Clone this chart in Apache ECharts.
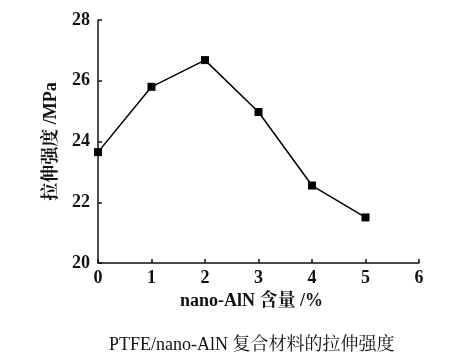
<!DOCTYPE html>
<html><head><meta charset="utf-8">
<script src="https://cdn.jsdelivr.net/npm/echarts@6/dist/echarts.min.js"></script>
<style>html,body{margin:0;padding:0;background:#fff}#c{width:455px;height:362px}</style>
</head><body><div id="c"></div>
<script>
const xValues = [0, 1, 2, 3, 4, 5];
const strength = [23.65, 25.8, 26.68, 24.97, 22.55, 21.5];
const yTicks = [20, 22, 24, 26, 28];
const xTicks = [0, 1, 2, 3, 4, 5, 6];
const xName = 'nano-AlN 含量 /%';
const yName = '拉伸强度 /MPa';
const title = 'PTFE/nano-AlN 复合材料的拉伸强度';

const serif = '"Liberation Serif","Noto Serif CJK SC","Noto Sans CJK SC",serif';
const chart = echarts.init(document.getElementById('c'));
chart.setOption({
  animation: false,
  backgroundColor: '#fff',
  title: {
    text: title, left: 104, top: 331,
    textStyle: {fontFamily: serif, fontSize: 18, fontWeight: 'normal', color: '#111'}
  },
  grid: {left: 98, top: 20, right: 36, bottom: 99},
  xAxis: {
    type: 'value', min: xTicks[0], max: xTicks[xTicks.length - 1], interval: 1,
    name: xName, nameLocation: 'middle', nameGap: 25,
    nameTextStyle: {fontFamily: serif, fontSize: 18, fontWeight: 'bold', color: '#111', padding: [0, 14, 0, 0]},
    axisLine: {lineStyle: {color: '#111', width: 1.5}},
    axisTick: {inside: true, length: 4, lineStyle: {color: '#111', width: 1.5}},
    axisLabel: {fontFamily: serif, fontSize: 18, fontWeight: 'bold', color: '#111', margin: 6},
    splitLine: {show: false}
  },
  yAxis: {
    type: 'value', min: yTicks[0], max: yTicks[yTicks.length - 1], interval: 2,
    name: yName, nameLocation: 'middle', nameGap: 38, nameRotate: 90,
    nameTextStyle: {fontFamily: serif, fontSize: 18, fontWeight: 'bold', color: '#111'},
    axisLine: {show: true, lineStyle: {color: '#111', width: 1.5}},
    axisTick: {show: true, inside: true, length: 4, lineStyle: {color: '#111', width: 1.5}},
    axisLabel: {fontFamily: serif, fontSize: 18, fontWeight: 'bold', color: '#111', margin: 8},
    splitLine: {show: false}
  },
  series: [{
    type: 'line',
    data: xValues.map((x, i) => [x, strength[i]]),
    symbol: 'rect', symbolSize: 8,
    itemStyle: {color: '#000'},
    lineStyle: {color: '#000', width: 1.5}
  }]
});
</script></body></html>
